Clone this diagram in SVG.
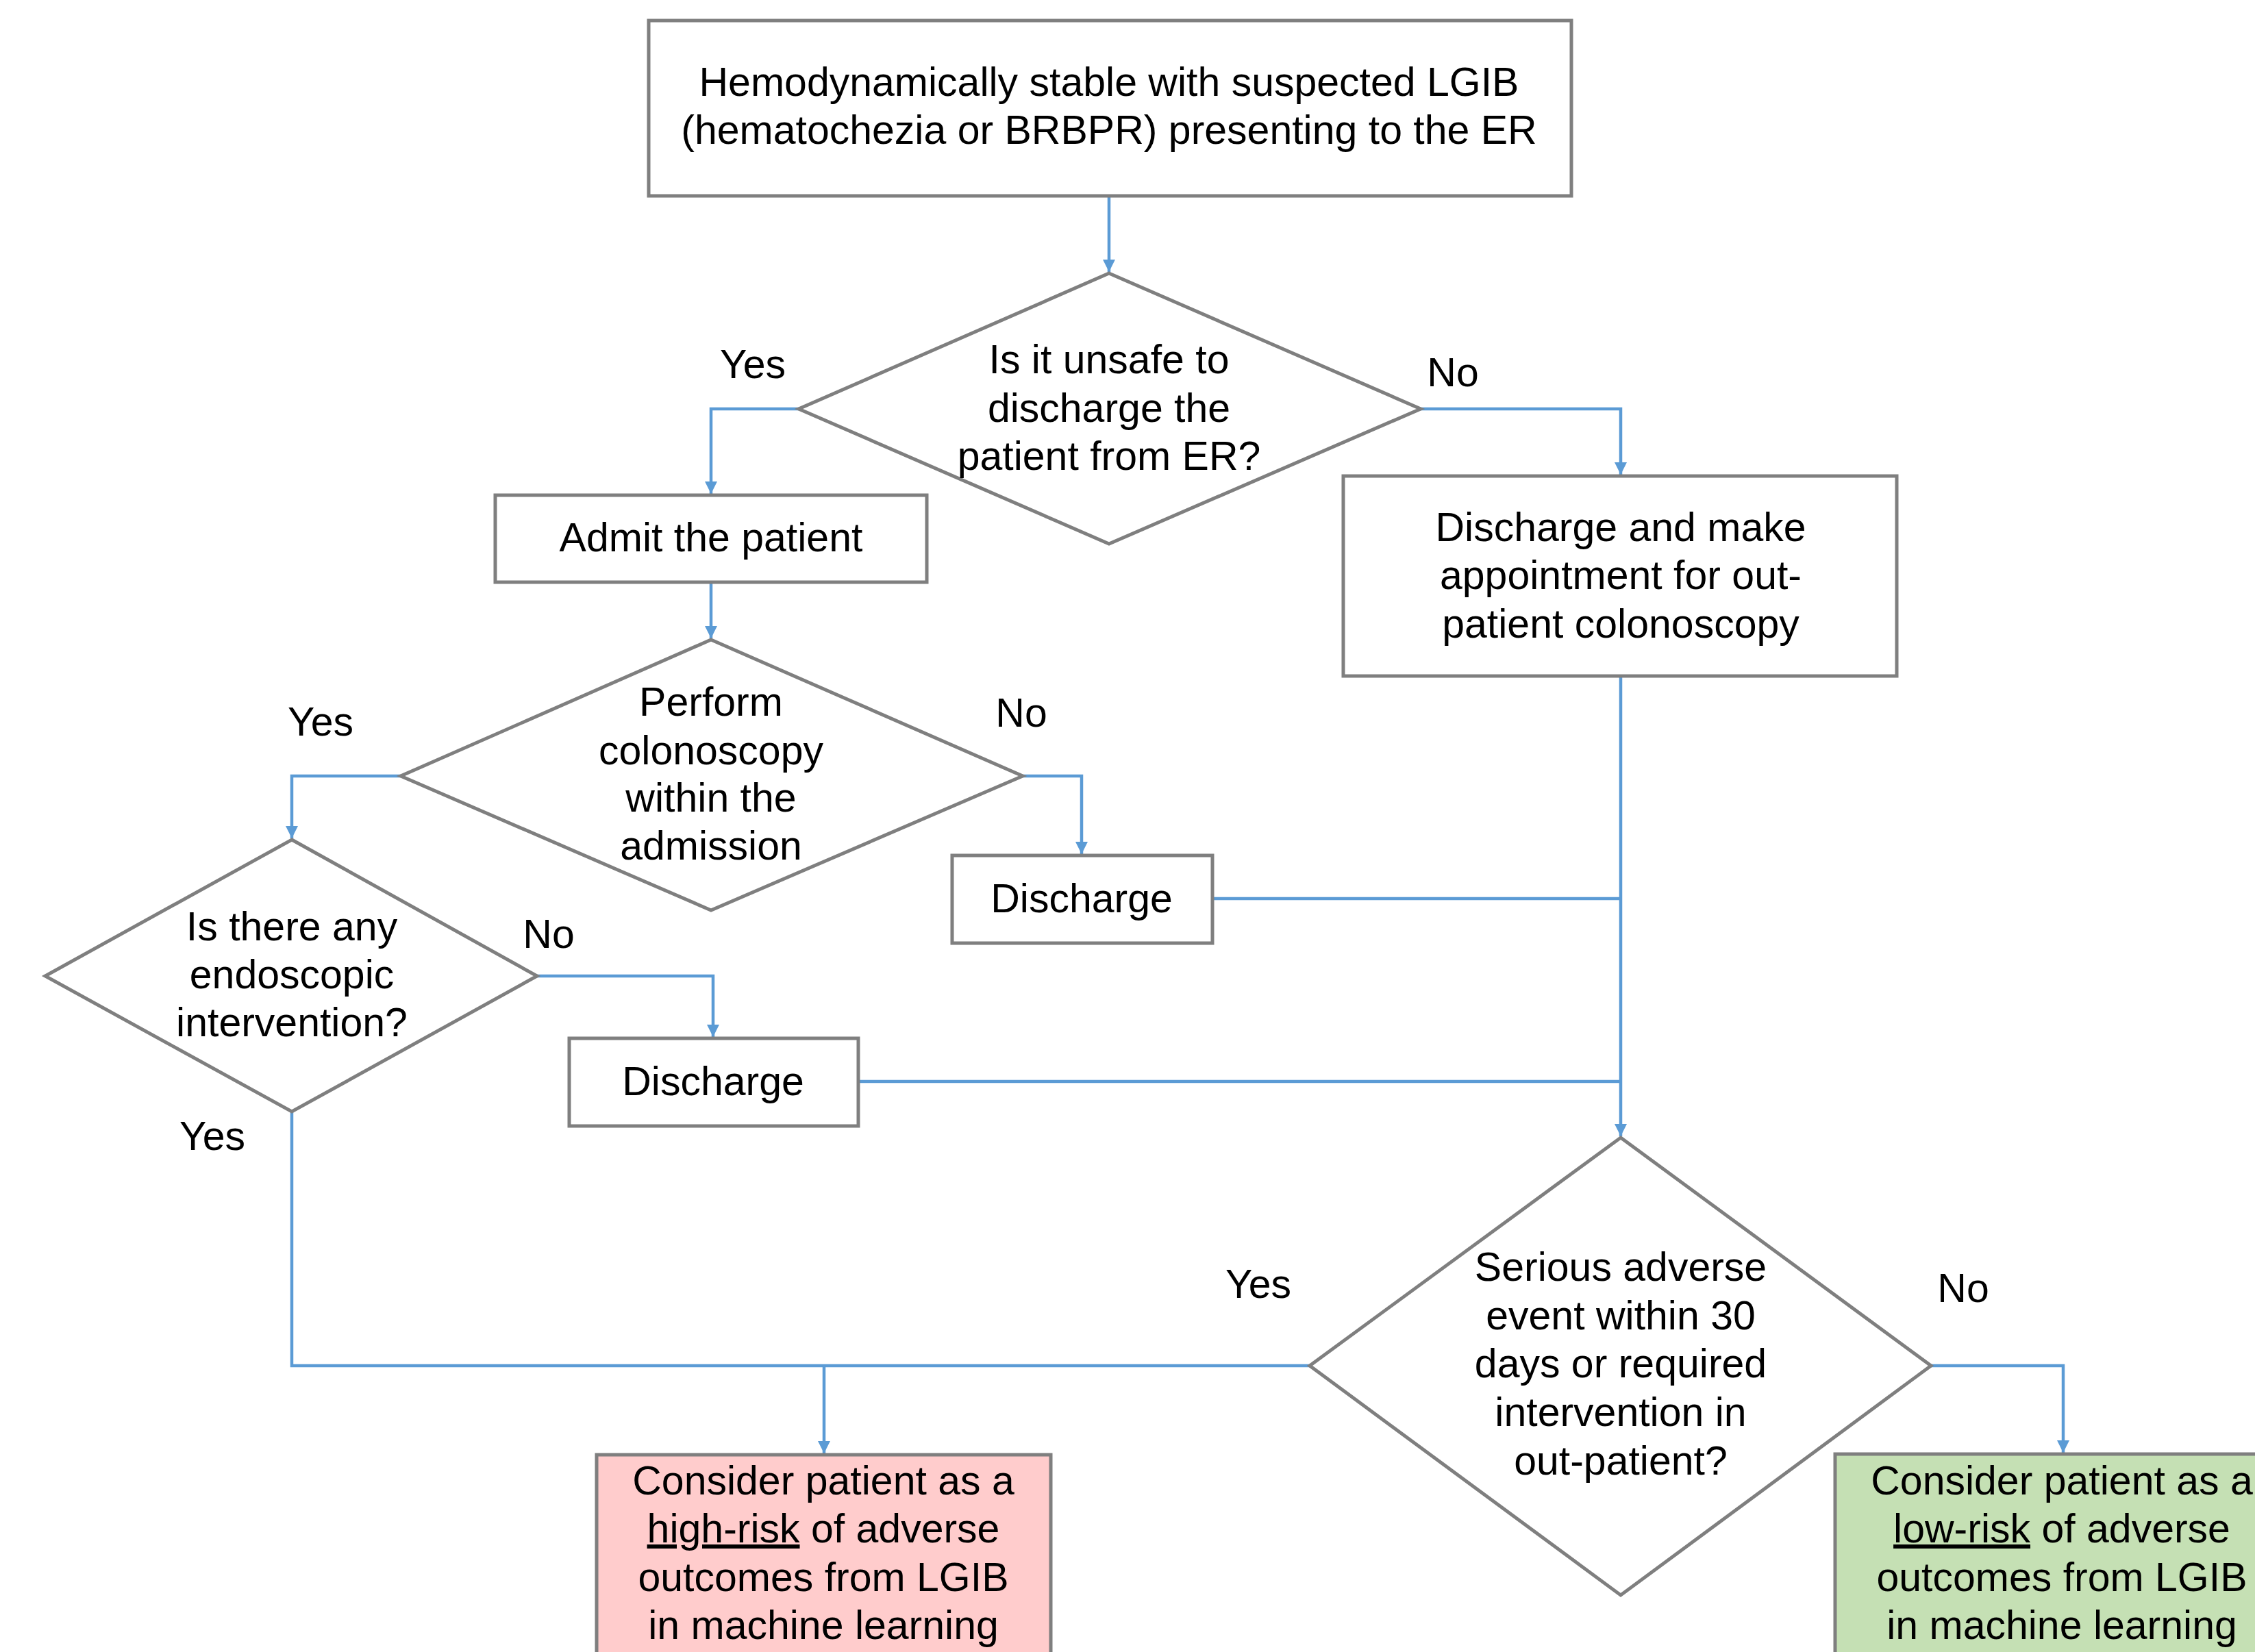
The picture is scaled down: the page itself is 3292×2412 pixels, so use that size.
<svg xmlns="http://www.w3.org/2000/svg" width="3292" height="2412" viewBox="0 0 3292 2412">
<style>
.n{fill:#fff;stroke:#7f7f7f;stroke-width:5}
.t{font-family:"Liberation Sans",Arial,sans-serif;font-size:59px;fill:#000;text-anchor:middle}
.c{fill:none;stroke:#5b9bd5;stroke-width:4.5}
</style>
<defs>
<marker id="a" viewBox="0 0 10 10" refX="10" refY="5" markerWidth="4" markerHeight="4" orient="auto" markerUnits="strokeWidth">
<path d="M0,0 L10,5 L0,10 z" fill="#5b9bd5"/>
</marker>
</defs>
<rect width="3292" height="2412" fill="#fff"/>
<g id="connectors">
<path class="c" d="M1619,286 V397" marker-end="url(#a)"/>
<path class="c" d="M1166,597 H1038 V721" marker-end="url(#a)"/>
<path class="c" d="M2074,597 H2366 V693" marker-end="url(#a)"/>
<path class="c" d="M1038,850 V932" marker-end="url(#a)"/>
<path class="c" d="M585,1133 H426 V1224" marker-end="url(#a)"/>
<path class="c" d="M1493,1133 H1579 V1247" marker-end="url(#a)"/>
<path class="c" d="M784,1425 H1041 V1514" marker-end="url(#a)"/>
<path class="c" d="M2366,987 V1659" marker-end="url(#a)"/>
<path class="c" d="M1770,1312 H2366"/>
<path class="c" d="M1253,1579 H2366"/>
<path class="c" d="M426,1623 V1994 H1912"/>
<path class="c" d="M1203,1994 V2122" marker-end="url(#a)"/>
<path class="c" d="M2819,1994 H3012 V2121" marker-end="url(#a)"/>
</g>
<g id="start">
<rect class="n" x="947" y="30" width="1347" height="256"/>
<text class="t" x="1619" y="140">Hemodynamically stable with suspected LGIB</text>
<text class="t" x="1619" y="210">(hematochezia or BRBPR) presenting to the ER</text>
</g>
<g id="d1">
<polygon class="n" points="1619,399 2074,597 1619,794 1166,597"/>
<text class="t" x="1619" y="545">Is it unsafe to</text>
<text class="t" x="1619" y="616">discharge the</text>
<text class="t" x="1619" y="686">patient from ER?</text>
</g>
<g id="admit">
<rect class="n" x="723" y="723" width="630" height="127"/>
<text class="t" x="1038" y="805">Admit the patient</text>
</g>
<g id="dischargeAppt">
<rect class="n" x="1961" y="695" width="808" height="292"/>
<text class="t" x="2366" y="790">Discharge and make</text>
<text class="t" x="2366" y="860">appointment for out-</text>
<text class="t" x="2366" y="931">patient colonoscopy</text>
</g>
<g id="d2">
<polygon class="n" points="1038,934 1493,1133 1038,1329 585,1133"/>
<text class="t" x="1038" y="1045">Perform</text>
<text class="t" x="1038" y="1116">colonoscopy</text>
<text class="t" x="1038" y="1185">within the</text>
<text class="t" x="1038" y="1255">admission</text>
</g>
<g id="discharge1">
<rect class="n" x="1390" y="1249" width="380" height="128"/>
<text class="t" x="1579" y="1332">Discharge</text>
</g>
<g id="d3">
<polygon class="n" points="426,1226 784,1425 426,1623 66,1425"/>
<text class="t" x="426" y="1373">Is there any</text>
<text class="t" x="426" y="1443">endoscopic</text>
<text class="t" x="426" y="1513">intervention?</text>
</g>
<g id="discharge2">
<rect class="n" x="831" y="1516" width="422" height="128"/>
<text class="t" x="1041" y="1599">Discharge</text>
</g>
<g id="d4">
<polygon class="n" points="2366,1661 2819,1994 2366,2329 1912,1994"/>
<text class="t" x="2366" y="1870">Serious adverse</text>
<text class="t" x="2366" y="1941">event within 30</text>
<text class="t" x="2366" y="2011">days or required</text>
<text class="t" x="2366" y="2082">intervention in</text>
<text class="t" x="2366" y="2153">out-patient?</text>
</g>
<g id="highRisk">
<rect class="n" x="871" y="2124" width="663" height="320" style="fill:#ffcccc"/>
<text class="t" x="1202" y="2182">Consider patient as a</text>
<text class="t" x="1202" y="2252"><tspan text-decoration="underline">high-risk</tspan> of adverse</text>
<text class="t" x="1202" y="2323">outcomes from LGIB</text>
<text class="t" x="1202" y="2393">in machine learning</text>
</g>
<g id="lowRisk">
<rect class="n" x="2679" y="2123" width="666" height="320" style="fill:#c5e0b4"/>
<text class="t" x="3010" y="2182">Consider patient as a</text>
<text class="t" x="3010" y="2252"><tspan text-decoration="underline">low-risk</tspan> of adverse</text>
<text class="t" x="3010" y="2323">outcomes from LGIB</text>
<text class="t" x="3010" y="2393">in machine learning</text>
</g>
<g id="labels">
<text class="t" x="1099" y="552">Yes</text>
<text class="t" x="2121" y="564">No</text>
<text class="t" x="468" y="1074">Yes</text>
<text class="t" x="1491" y="1061">No</text>
<text class="t" x="801" y="1384">No</text>
<text class="t" x="310" y="1679">Yes</text>
<text class="t" x="1837" y="1895">Yes</text>
<text class="t" x="2866" y="1901">No</text>
</g>
</svg>
